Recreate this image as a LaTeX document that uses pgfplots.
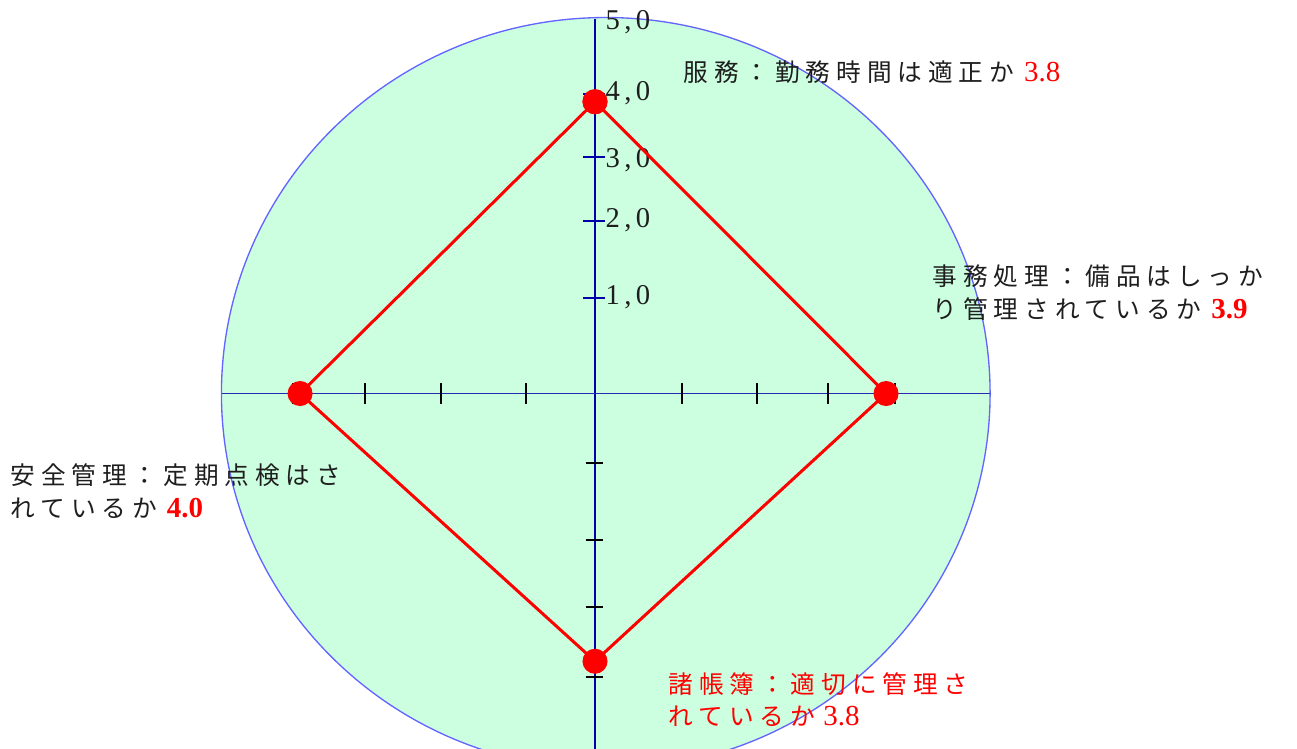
\documentclass[border=0pt]{standalone}
\usepackage{fontspec}
\setmainfont{Liberation Serif}
\newfontfamily\jp[LetterSpace=24]{Noto Sans CJK JP}
\usepackage{pgfplots}
\pgfplotsset{compat=1.18}
\definecolor{mint}{RGB}{204,255,224}
\definecolor{rim}{RGB}{100,100,255}
\definecolor{navy}{RGB}{0,0,170}
\definecolor{hblue}{RGB}{40,40,180}
\definecolor{ink}{RGB}{30,30,30}

\newcommand{\jl}{\fontsize{7.4}{9}\selectfont\jp}
\newcommand{\numf}{\fontsize{8.7}{9}\selectfont\rmfamily}
\newcommand{\scl}[1]{\fontsize{8.6}{9}\selectfont #1\hspace{1.3pt},\hspace{1.3pt}0}

\begin{document}
\begin{tikzpicture}
\begin{axis}[
    scale only axis,
    width=389.1pt, height=224.7pt,
    xmin=-7.727, xmax=9.117,
    ymin=-4.727, ymax=5.233,
    hide axis,
    clip=true,
]
% background disc
\draw[fill=mint, draw=rim, line width=0.4pt] (axis cs:0.14,0) ellipse [x radius=115.3pt, y radius=112.8pt];

% axes
\draw[navy, line width=0.6pt] (axis cs:0,4.98) -- (axis cs:0,-5.2);
\draw[hblue, line width=0.45pt] (axis cs:-4.844,0) -- (axis cs:5.13,0);

% ticks on the upper vertical axis
\pgfplotsinvokeforeach{3.983,3.145,2.294,1.27}{
  \draw[navy, line width=0.6pt] (axis cs:-0.15,#1) -- (axis cs:0.13,#1);
}
% ticks on the lower vertical axis
\pgfplotsinvokeforeach{-0.924,-1.948,-2.839,-3.77}{
  \draw[black, line width=0.6pt] (axis cs:-0.12,#1) -- (axis cs:0.1,#1);
}
% ticks on the horizontal axis
\pgfplotsinvokeforeach{-3.922,-2.987,-2.0,-0.896,1.13,2.104,3.026,3.896}{
  \draw[black, line width=0.6pt] (axis cs:#1,-0.14) -- (axis cs:#1,0.14);
}

% scale labels
\node[anchor=west, inner sep=0pt, text=ink] at (axis cs:0.13,4.94) {\scl{5}};
\node[anchor=west, inner sep=0pt, text=ink] at (axis cs:0.13,4.0) {\scl{4}};
\node[anchor=west, inner sep=0pt, text=ink] at (axis cs:0.13,3.105) {\scl{3}};
\node[anchor=west, inner sep=0pt, text=ink] at (axis cs:0.13,2.307) {\scl{2}};
\node[anchor=west, inner sep=0pt, text=ink] at (axis cs:0.13,1.283) {\scl{1}};

% data
\addplot[red, line width=0.9pt, mark=*, mark size=3.3pt,
         mark options={fill=red, draw=red}] coordinates {
    (0,3.88) (3.78,0) (0,-3.56) (-3.83,0) (0,3.88)
};

% category labels
\node[anchor=west, inner sep=0pt, text=ink] at (axis cs:1.143,4.275)
  {\jl 服務：勤務時間は適正か\hspace{3pt}{\numf\color{red}3.8}};
\node[anchor=west, inner sep=0pt, text=ink] at (axis cs:4.377,1.5625)
  {\jl 事務処理：備品はしっか};
\node[anchor=west, inner sep=0pt, text=ink] at (axis cs:4.377,1.124)
  {\jl り管理されているか\hspace{3pt}{\numf\bfseries\color{red}3.9}};
\node[anchor=west, inner sep=0pt, text=ink] at (axis cs:-7.597,-1.084)
  {\jl 安全管理：定期点検はさ};
\node[anchor=west, inner sep=0pt, text=ink] at (axis cs:-7.597,-1.523)
  {\jl れているか\hspace{3pt}{\numf\bfseries\color{red}4.0}};
\node[anchor=west, inner sep=0pt, text=red] at (axis cs:0.948,-3.86)
  {\jl 諸帳簿：適切に管理さ};
\node[anchor=west, inner sep=0pt, text=red] at (axis cs:0.948,-4.29)
  {\jl れているか\hspace{2.5pt}{\numf 3.8}};
\end{axis}
\pgfresetboundingbox
\useasboundingbox (current axis.south west) rectangle (current axis.north east);
\end{tikzpicture}
\end{document}
